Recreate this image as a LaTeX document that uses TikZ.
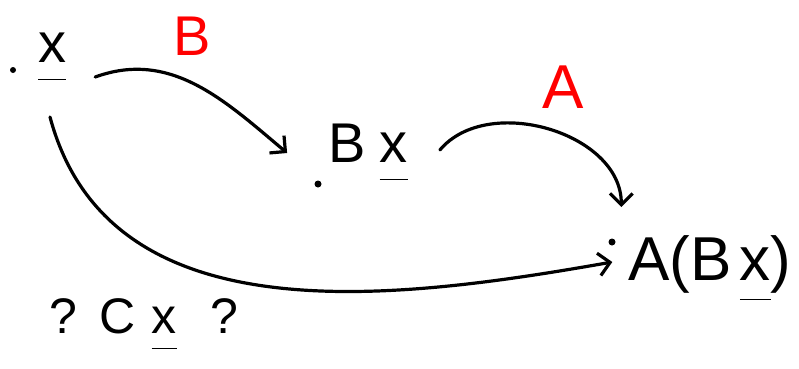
\documentclass[tikz,border=0pt]{standalone}
\usepackage{fontspec}
\setmainfont{Liberation Sans}
\usetikzlibrary{arrows.meta}
\newcommand\ulvec[1]{\underline{\raisebox{0pt}[\height][.28em]{#1}}}

\begin{document}
\begin{tikzpicture}[x=1pt, y=1pt,
    hand/.style={inner sep=0pt, anchor=base, font=\fontsize{56}{60}\selectfont},
    lbl/.style={hand, text=red},
    arr/.style={-{Straight Barb[angle=90:16pt]}, line width=3.2pt, line cap=round},
    blob/.style={fill=black}
  ]
  \useasboundingbox (0,0) rectangle (799,-368);
  \node[hand] (xv) at (52,-62) {\ulvec{x}};
  \node[hand] (bx) at (368,-162) {B\hspace{14pt}\ulvec{x}};
  \node[hand, font=\fontsize{62}{68}\selectfont] (abx) at (710,-280) {A(B\hspace{8pt}\ulvec{x})};
  \node[hand, font=\fontsize{50}{54}\selectfont] (cx) at (144,-333) {?\hspace{22pt}C\hspace{16pt}\ulvec{x}\hspace{34pt}?};
  \node[lbl, font=\fontsize{56}{60}\selectfont] (lb) at (192,-55) {B};
  \node[lbl, font=\fontsize{62}{66}\selectfont] (la) at (563,-108) {A};
  \draw[arr] ([shift={(29,-15)}]xv.base east) to[out=20, in=140] ([shift={(-41,9)}]bx.base west);
  \draw[arr] ([shift={(32,12)}]bx.base east) to[out=50, in=90] ([shift={(-7,73)}]abx.base west);
  \draw[arr] ([shift={(-2,-55)}]xv.base) to[out=-75, in=190] ([shift={(-16,18)}]abx.base west);
  \fill[blob] (13,-70) circle (3pt);
  \fill[blob] (318,-184) circle (3.5pt);
  \fill[blob] (612,-242) circle (3.5pt);
\end{tikzpicture}
\end{document}
